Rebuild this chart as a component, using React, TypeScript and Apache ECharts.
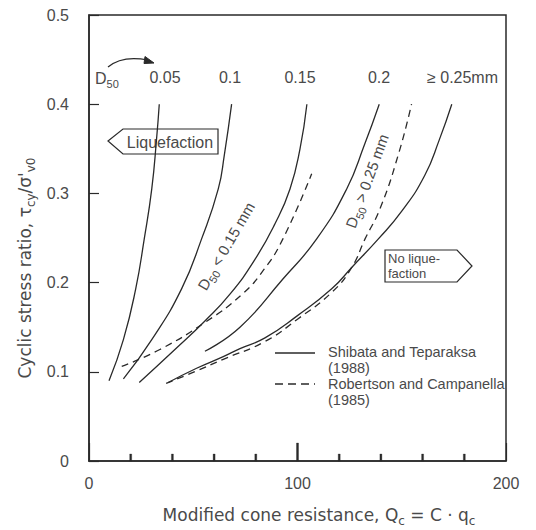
import { useEffect, useRef } from "react";
import * as echarts from "echarts";

// Axis ranges / ticks
const xMin = 0;
const xMax = 200;
const xInterval = 100;
const xTickValues = [20, 40, 60, 80, 100, 120, 140, 160, 180];
const yMin = 0;
const yMax = 0.5;
const yInterval = 0.1;

// Shibata and Teparaksa (1988) curves, one per D50
const d005X = [9.6, 16.5, 22.4, 26.5, 30.1, 32.4, 33.7];
const d005Y = [0.09, 0.136, 0.193, 0.249, 0.305, 0.361, 0.4];

const d01X = [16.5, 30.1, 44.4, 54.0, 62.0, 64.9, 68.4];
const d01Y = [0.092, 0.136, 0.193, 0.249, 0.305, 0.343, 0.4];

const d015X = [24.1, 41.2, 55.6, 67.6, 79.6, 89.2, 96.4, 101.2, 104.5];
const d015Y = [0.088, 0.125, 0.157, 0.187, 0.226, 0.266, 0.305, 0.35, 0.4];

const d02X = [55.6, 72.4, 93, 109.2, 123.6, 132.2, 139.2];
const d02Y = [0.123, 0.15, 0.204, 0.249, 0.305, 0.355, 0.4];

const d025X = [38, 51.6, 64.4, 72.4, 84.4, 100, 116.4, 126, 138.8, 150, 161, 168, 174];
const d025Y = [0.088, 0.104, 0.117, 0.126, 0.138, 0.163, 0.193, 0.217, 0.249, 0.28, 0.32, 0.36, 0.4];

// Robertson and Campanella (1985) curves
const rcFineX = [15.7, 34, 56, 73, 84, 93, 106.8];
const rcFineY = [0.106, 0.125, 0.156, 0.186, 0.215, 0.249, 0.322];

const rcCoarseX = [37, 51.6, 64.4, 84.4, 100, 116.4, 126, 132.4, 139.6, 148.3, 154.7];
const rcCoarseY = [0.087, 0.101, 0.114, 0.134, 0.159, 0.189, 0.217, 0.249, 0.283, 0.343, 0.4];

const d50Labels = ["0.05", "0.1", "0.15", "0.2", "≥ 0.25mm"];
const legendNames = ["Shibata and Teparaksa", "(1988)", "Robertson and Campanella", "(1985)"];

const FONT = "Liberation Sans";
const TFONT = "DejaVu Sans";
const TXT = "#4a4a4a";
const LINE = "#2a2a2a";

const GRID = { left: 89, right: 30, top: 15, bottom: 69 };
const W = 536;
const H = 530;

const zip = (xs: number[], ys: number[]) => xs.map((x, i) => [x, ys[i]]);

const noBorder = { textBorderWidth: 0, textBorderColor: "transparent", textShadowBlur: 0 };

const titleRich = {
  b: { fontSize: 17, fontFamily: TFONT, fontWeight: "normal", color: TXT, lineHeight: 24, verticalAlign: "middle", ...noBorder },
  s: { fontSize: 12, fontFamily: TFONT, fontWeight: "normal", color: TXT, lineHeight: 12, verticalAlign: "bottom", ...noBorder },
};
const labelRich = {
  b: { fontSize: 15, fontFamily: FONT, fontWeight: "normal", color: TXT, lineHeight: 22, verticalAlign: "middle", ...noBorder },
  s: { fontSize: 11, fontFamily: FONT, fontWeight: "normal", color: TXT, lineHeight: 11, verticalAlign: "bottom", ...noBorder },
};

export default function App() {
  const ref = useRef<HTMLDivElement>(null);

  useEffect(() => {
    if (!ref.current) return;
    const chart = echarts.init(ref.current, undefined, { renderer: "svg" });

    const solid = (name: string, xs: number[], ys: number[]) => ({
      type: "line",
      name,
      data: zip(xs, ys),
      smooth: 0.5,
      showSymbol: false,
      symbol: "none",
      lineStyle: { color: LINE, width: 1.3, type: "solid" },
      silent: true,
    });
    const dashed = (name: string, xs: number[], ys: number[]) => ({
      type: "line",
      name,
      data: zip(xs, ys),
      smooth: 0.5,
      showSymbol: false,
      symbol: "none",
      lineStyle: { color: LINE, width: 1.3, type: [7, 5] },
      silent: true,
    });

    const textEl = (text: string, x: number, y: number, extra: any = {}) => ({
      type: "text",
      x,
      y,
      silent: true,
      style: {
        text,
        fill: TXT,
        font: `15px "${FONT}"`,
        align: "center",
        verticalAlign: "middle",
        ...extra,
      },
    });

    const richEl = (text: string, x: number, y: number, rich: any, rotationDeg = 0, align = "center") => ({
      type: "text",
      x,
      y,
      rotation: (rotationDeg * Math.PI) / 180,
      silent: true,
      style: {
        text,
        rich,
        fill: TXT,
        stroke: "transparent",
        lineWidth: 0,
        align,
        verticalAlign: "middle",
      },
    });

    const labelXs = [165, 230, 300, 379, 427];

    // x-axis ticks: inside, every 20, the one at 100 longer (drawn as thin filled polygons)
    const plotW = W - GRID.left - GRID.right;
    const baseY = H - GRID.bottom;
    const tickEls = xTickValues.map((v) => {
      const px = GRID.left + ((v - xMin) / (xMax - xMin)) * plotW;
      const len = v % xInterval === 0 ? 18 : 7;
      return {
        type: "polygon",
        silent: true,
        z: 100,
        shape: {
          points: [
            [px - 1, baseY],
            [px + 1, baseY],
            [px + 1, baseY - len],
            [px - 1, baseY - len],
          ],
        },
        style: { fill: LINE, stroke: LINE, lineWidth: 0.3 },
      };
    });

    const graphics: any[] = [
      // axis titles
      richEl("{b|Modified cone resistance, Q}{s|c}{b| = C · q}{s|c}", 319, 515, titleRich),
      richEl("{b|Cyclic stress ratio, τ}{s|cy}{b|/σ'}{s|v0}", 25, 268, titleRich, 90),
      // D50 header
      richEl("{b|D}{s|50}", 95, 78, { b: { ...labelRich.b, fontSize: 16 }, s: labelRich.s }, 0, "left"),
      {
        type: "bezierCurve",
        silent: true,
        shape: { x1: 108, y1: 67, cpx1: 122, cpy1: 55, x2: 148, y2: 60 },
        style: { stroke: LINE, lineWidth: 1.2, fill: "none" },
      },
      {
        type: "polygon",
        silent: true,
        shape: { points: [[154, 63], [145, 56.5], [144, 63.5]] },
        style: { fill: LINE, stroke: LINE },
      },
      ...d50Labels.map((t, i) =>
        textEl(t, labelXs[i], 77, { font: `16px "${FONT}"`, align: i === 4 ? "left" : "center" })
      ),
      // Liquefaction box
      {
        type: "polygon",
        silent: true,
        shape: { points: [[108, 141], [123, 129], [218, 129], [218, 154], [123, 154]] },
        style: { fill: "#fff", stroke: LINE, lineWidth: 1.2 },
      },
      textEl("Liquefaction", 170, 142, { font: `16px "${FONT}"` }),
      // No liquefaction box
      {
        type: "polygon",
        silent: true,
        shape: { points: [[385, 250], [457, 250], [472, 266], [457, 282], [385, 282]] },
        style: { fill: "#fff", stroke: LINE, lineWidth: 1.2 },
      },
      textEl("No lique-", 388, 258, { font: `13px "${FONT}"`, align: "left" }),
      textEl("faction", 388, 273, { font: `13px "${FONT}"`, align: "left" }),
      // rotated labels along curves
      richEl("{b|D}{s|50}{b| < 0.15 mm}", 226, 246, labelRich, 60),
      richEl("{b|D}{s|50}{b| > 0.25 mm}", 367, 181, labelRich, 70),
      // legend
      {
        type: "line",
        silent: true,
        shape: { x1: 275, y1: 353, x2: 315, y2: 353 },
        style: { stroke: LINE, lineWidth: 1.3 },
      },
      {
        type: "line",
        silent: true,
        shape: { x1: 275, y1: 384, x2: 315, y2: 384 },
        style: { stroke: LINE, lineWidth: 1.3, lineDash: [8, 5] },
      },
      textEl(legendNames[0], 328, 352, { align: "left", font: `14.5px "${FONT}"` }),
      textEl(legendNames[1], 328, 368, { align: "left", font: `14.5px "${FONT}"` }),
      textEl(legendNames[2], 328, 384, { align: "left", font: `14.5px "${FONT}"` }),
      textEl(legendNames[3], 328, 400, { align: "left", font: `14.5px "${FONT}"` }),
      ...tickEls,
    ];

    chart.setOption({
      animation: false,
      backgroundColor: "#ffffff",
      grid: {
        ...GRID,
        show: true,
        borderColor: LINE,
        borderWidth: 1.5,
      },
      xAxis: {
        type: "value",
        min: xMin,
        max: xMax,
        interval: xInterval,
        axisLine: { show: true, onZero: false, lineStyle: { color: LINE, width: 1.5 } },
        axisTick: { show: true, inside: true, length: 18, lineStyle: { color: LINE, width: 1.2 } },
        splitLine: { show: false },
        axisLabel: {
          margin: 14,
          color: TXT,
          fontSize: 16,
          fontFamily: FONT,
          formatter: (v: number) => String(Math.round(v)),
        },
      },
      yAxis: {
        type: "value",
        min: yMin,
        max: yMax,
        interval: yInterval,
        axisLine: { show: true, lineStyle: { color: LINE, width: 1.5 } },
        axisTick: { show: true, inside: true, length: 10, lineStyle: { color: LINE, width: 1.2 } },
        splitLine: { show: false },
        axisLabel: {
          margin: 20,
          color: TXT,
          fontSize: 16,
          fontFamily: FONT,
          formatter: (v: number) => (v === 0 ? "0" : v.toFixed(1)),
        },
      },
      series: [
        solid("Shibata and Teparaksa (1988)", d005X, d005Y),
        solid("Shibata and Teparaksa (1988)", d01X, d01Y),
        solid("Shibata and Teparaksa (1988)", d015X, d015Y),
        solid("Shibata and Teparaksa (1988)", d02X, d02Y),
        solid("Shibata and Teparaksa (1988)", d025X, d025Y),
        dashed("Robertson and Campanella (1985)", rcFineX, rcFineY),
        dashed("Robertson and Campanella (1985)", rcCoarseX, rcCoarseY),
      ],
      graphic: graphics,
    });

    return () => chart.dispose();
  }, []);

  return <div ref={ref} style={{ width: W, height: H, marginLeft: -8, marginTop: -8 }} />;
}
